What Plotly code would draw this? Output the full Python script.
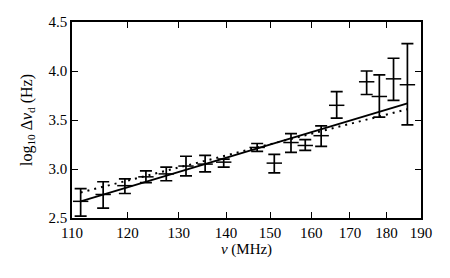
import plotly.graph_objects as go
import numpy as np

freq = [111.5, 115.5, 119.5, 123.5, 127.5, 131.5, 135.5, 139.5, 147.0, 151.0,
        155.0, 158.5, 162.5, 166.5, 174.5, 178.0, 182.0, 186.0]
logdnu = [2.67, 2.74, 2.83, 2.92, 2.95, 3.03, 3.05, 3.07, 3.22, 3.06,
          3.27, 3.24, 3.34, 3.65, 3.89, 3.74, 3.92, 3.86]
err_up = [0.13, 0.13, 0.07, 0.06, 0.07, 0.10, 0.09, 0.03, 0.04, 0.09,
          0.09, 0.06, 0.10, 0.14, 0.11, 0.22, 0.21, 0.42]
err_dn = [0.15, 0.14, 0.08, 0.06, 0.07, 0.10, 0.08, 0.05, 0.04, 0.10,
          0.10, 0.05, 0.11, 0.13, 0.13, 0.21, 0.22, 0.41]

fit_x = [111.5, 186.0]
fit_solid = [2.67, 3.67]
fit_dotted = [2.76, 3.61]

xticks = [110, 120, 130, 140, 150, 160, 170, 180, 190]
yticks = [2.5, 3.0, 3.5, 4.0, 4.5]

font = "Liberation Serif"
fs = 15

fig = go.Figure()
fig.add_trace(go.Scatter(
    x=fit_x, y=fit_dotted, mode="lines",
    line=dict(color="black", width=2, dash="2px,5px"), showlegend=False))
fig.add_trace(go.Scatter(
    x=fit_x, y=fit_solid, mode="lines",
    line=dict(color="black", width=2), showlegend=False))
fig.add_trace(go.Scatter(
    x=freq, y=logdnu, mode="markers",
    marker=dict(symbol="line-ew", size=11, line=dict(color="black", width=1.5)),
    error_y=dict(type="data", symmetric=False, array=err_up, arrayminus=err_dn,
                 color="black", thickness=1.7, width=6),
    showlegend=False))

axis_common = dict(showline=True, linecolor="black", linewidth=1.5, mirror="ticks",
                   ticks="inside", ticklen=6, tickwidth=1, tickcolor="black",
                   showgrid=False, zeroline=False,
                   tickfont=dict(family=font, size=fs, color="black"))

fig.update_layout(
    width=450, height=278,
    margin=dict(l=72, r=29, t=22, b=60),
    plot_bgcolor="white", paper_bgcolor="white",
    xaxis=dict(type="log", range=[np.log10(110), np.log10(190)],
               tickvals=xticks, ticktext=[str(v) for v in xticks],
               title=dict(text="<i>ν</i> (MHz)", font=dict(family=font, size=fs, color="black"), standoff=2),
               **axis_common),
    yaxis=dict(range=[2.5, 4.5], tickvals=yticks, ticktext=[f"{v:.1f}" for v in yticks],
               title=dict(text="log<sub>10</sub> Δ<i>ν</i><sub>d</sub> (Hz)",
                          font=dict(family=font, size=16, color="black"), standoff=12),
               **axis_common),
)

fig.write_html("out.html", config={"displayModeBar": False},
               post_script="document.body.style.margin='0';")
